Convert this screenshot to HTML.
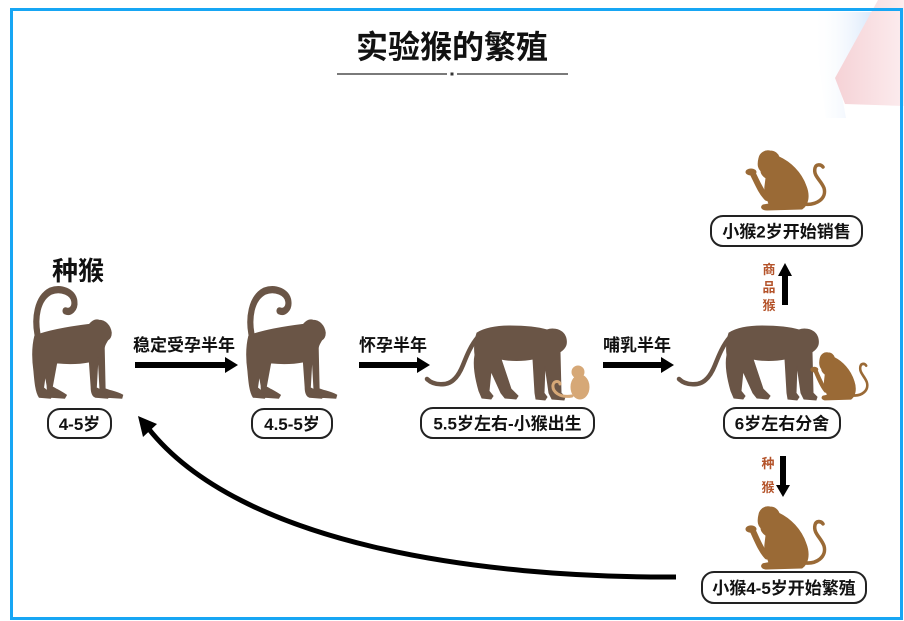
<!DOCTYPE html>
<html><head><meta charset="utf-8"><style>
html,body{margin:0;padding:0;background:#fff;}
body{width:904px;height:621px;overflow:hidden;}
svg{display:block;}
text{font-family:"Liberation Sans","Noto Sans CJK SC",sans-serif;font-weight:700;}
</style></head><body>
<svg width="904" height="621" viewBox="0 0 904 621" xmlns="http://www.w3.org/2000/svg">
<defs>
<linearGradient id="gb" x1="0" y1="0" x2="1" y2="0">
<stop offset="0" stop-color="#ffffff" stop-opacity="0"/>
<stop offset="1" stop-color="#d3e4fa"/>
</linearGradient>
<linearGradient id="gp" x1="0" y1="0" x2="1" y2="0">
<stop offset="0" stop-color="#f5d2d6"/>
<stop offset="1" stop-color="#fcecee"/>
</linearGradient>
<g id="mA">
<path d="M 2 46 C 20 40, 45 37, 64 35 C 67 32, 71 30, 75 31 C 82 31, 88 36, 89 43 C 89 47, 87 49, 85 50 C 83 53, 81 55, 81 58 L 82 97 C 88 99, 96 100, 102 103 L 101 106 L 83 105 C 79 104, 77 101, 76 97 L 74 66 L 72 96 C 77 98, 82 100, 87 103 L 85 106 L 71 105 C 67 104, 66 100, 66 95 L 64 71 C 52 73, 38 73, 27 72 L 22 95 C 28 98, 33 100, 38 103 L 36 106 L 20 105 C 17 103, 16 99, 16 94 L 14 84 L 12 96 C 15 98, 18 100, 22 103 L 20 106 L 7 105 C 3 100, 2 90, 1 80 C -1 68, -1 56, 2 46 Z"/>
<path d="M 5 44 C 2 30, 4 10, 20 3 C 32 -1, 46 4, 47 13 C 48 20, 42 24, 37 22" fill="none" stroke-width="7" stroke-linecap="round"/>
</g>
<g id="mB">
<path d="M 52 8 C 60 3, 72 1, 85 1 C 100 1, 112 2, 122 5 C 127 3, 134 4, 138 8 C 141 11, 142 16, 141 20 C 140 23, 138 25, 135 27 L 136 68 L 140 72 L 139 75 L 127 74 L 124 68 L 120 40 L 119 68 L 122 72 L 120 75 L 111 74 L 110 68 L 108 34 C 98 36, 85 36, 76 34 L 86 64 L 93 71 L 91 74 L 80 73 L 76 68 L 66 46 L 64 66 L 68 71 L 66 74 L 57 73 L 54 66 C 50 52, 48 40, 50 30 C 49 22, 50 14, 52 8 Z"/>
<path d="M 53 12 C 46 20, 42 30, 38 40 C 34 50, 28 58, 20 59 C 12 60, 6 58, 2 54" fill="none" stroke-width="4.5" stroke-linecap="round"/>
</g>
<g id="mS">
<path d="M 14 8 C 15 3, 20 0, 25 1 C 30 1, 33 4, 34 7 C 45 12, 56 22, 61 36 C 65 46, 63 55, 57 59 L 22 60 C 17 60, 15 57, 18 55 L 24 54 C 22 48, 19 42, 20 36 L 21 28 C 18 26, 16 24, 16 21 C 14 19, 12 16, 14 8 Z"/>
<path d="M 22 48 C 16 42, 12 32, 8 24" fill="none" stroke-width="6" stroke-linecap="round"/>
<ellipse cx="6" cy="22" rx="5" ry="3"/>
<path d="M 58 54 C 72 56, 82 48, 79 38 C 76 30, 68 26, 70 18 C 71 14, 76 14, 78 17" fill="none" stroke-width="3.5" stroke-linecap="round"/>
</g>
</defs>

<!-- top-right decoration -->
<polygon points="812,12 878,12 838,75 846,118 826,118" fill="url(#gb)"/>
<polygon points="878,0 904,0 904,106 845,104 835,78" fill="url(#gp)"/>

<!-- border -->
<rect x="11.5" y="9.5" width="890" height="609" fill="none" stroke="#17a6f4" stroke-width="3"/>

<!-- title -->
<text x="452" y="58" font-size="32" text-anchor="middle" fill="#111">实验猴的繁殖</text>
<line x1="337" y1="74" x2="447" y2="74" stroke="#7a7a7a" stroke-width="2"/>
<rect x="450.5" y="72.5" width="3" height="3" fill="#333"/>
<line x1="457" y1="74" x2="568" y2="74" stroke="#7a7a7a" stroke-width="2"/>

<!-- 种猴 label -->
<text x="52" y="280" font-size="26" fill="#111">种猴</text>

<!-- monkeys -->
<g fill="#6a5546" stroke="#6a5546">
<use href="#mA" transform="translate(33,288) scale(0.88,1.04)"/>
<use href="#mA" transform="translate(247,288) scale(0.88,1.04)"/>
<use href="#mB" transform="translate(425,325)"/>
<use href="#mB" transform="translate(677,325)"/>
</g>
<!-- baby -->
<g fill="#d6a877" stroke="#d6a877">
<circle cx="578" cy="372" r="6"/>
<ellipse cx="580" cy="387" rx="9" ry="12"/>
<path d="M 572 396 C 560 398, 552 392, 553 385 C 554 380, 560 381, 560 384" fill="none" stroke-width="3" stroke-linecap="round"/>
</g>
<g fill="#9a6a36" stroke="#9a6a36">
<use href="#mS" transform="translate(810,352) scale(0.72,0.8)"/>
<use href="#mS" transform="translate(745,150)"/>
<use href="#mS" transform="translate(745,506) scale(1,1.05)"/>
</g>

<!-- horizontal arrows -->
<g fill="#000">
<rect x="135" y="362" width="92" height="6"/>
<polygon points="225,357 238,365 225,373"/>
<rect x="359" y="362" width="60" height="6"/>
<polygon points="417,357 430,365 417,373"/>
<rect x="603" y="362" width="60" height="6"/>
<polygon points="661,357 674,365 661,373"/>
<!-- up arrow -->
<rect x="782" y="273" width="6" height="32"/>
<polygon points="778,276 785,263 792,276"/>
<!-- down arrow -->
<rect x="780" y="456" width="6" height="31"/>
<polygon points="776,485 790,485 783,497"/>
</g>

<!-- arrow labels -->
<text x="133" y="351" font-size="17" fill="#111">稳定受孕半年</text>
<text x="359" y="351" font-size="17" fill="#111">怀孕半年</text>
<text x="603" y="351" font-size="17" fill="#111">哺乳半年</text>

<!-- vertical labels -->
<g font-size="13" fill="#b4532a" text-anchor="middle">
<text x="769" y="274">商</text>
<text x="769" y="292">品</text>
<text x="769" y="310">猴</text>
<text x="768" y="468">种</text>
<text x="768" y="492">猴</text>
</g>

<!-- curved arrow -->
<path d="M 676 577 C 480 578, 240 545, 148 428" fill="none" stroke="#000" stroke-width="5"/>
<polygon points="138,416 157,424 143,437" fill="#000"/>

<!-- pills -->
<g fill="#fff" stroke="#222" stroke-width="2">
<rect x="48" y="409" width="63" height="29" rx="12"/>
<rect x="252" y="409" width="80" height="29" rx="12"/>
<rect x="421" y="408" width="173" height="30" rx="12"/>
<rect x="724" y="408" width="116" height="30" rx="12"/>
<rect x="711" y="216" width="151" height="30" rx="12"/>
<rect x="702" y="572" width="164" height="31" rx="12"/>
</g>
<g font-size="17" fill="#111" text-anchor="middle">
<text x="79.5" y="430">4-5岁</text>
<text x="292" y="430">4.5-5岁</text>
<text x="507.5" y="429.5">5.5岁左右-小猴出生</text>
<text x="782" y="429.5">6岁左右分舍</text>
<text x="786.5" y="237.5">小猴2岁开始销售</text>
<text x="784" y="594">小猴4-5岁开始繁殖</text>
</g>
</svg>
</body></html>
